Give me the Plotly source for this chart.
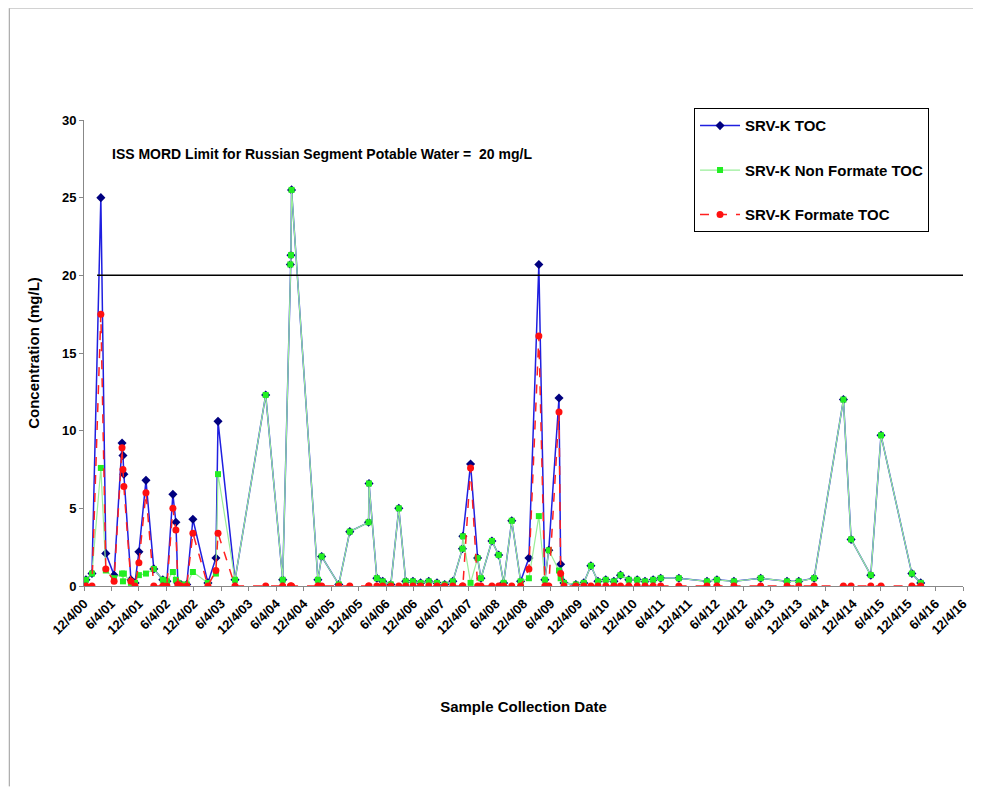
import plotly.graph_objects as go

# sample dates and concentrations (mg/L)
dates = ["2000-12-17", "2001-01-26", "2001-03-26", "2001-04-28", "2001-06-22", "2001-08-14",
         "2001-08-20", "2001-08-26", "2001-10-12", "2001-11-08", "2001-12-04", "2002-01-20",
         "2002-03-13", "2002-05-12", "2002-06-08", "2002-07-18", "2002-08-07", "2002-08-20",
         "2002-09-10", "2002-10-18", "2002-11-28", "2003-03-08", "2003-04-30", "2003-05-14",
         "2003-09-04", "2004-03-26", "2004-07-17", "2004-09-06", "2004-09-10", "2004-09-14",
         "2005-03-08", "2005-04-02", "2005-07-25", "2005-10-06", "2006-02-08", "2006-02-11",
         "2006-04-04", "2006-05-13", "2006-07-06", "2006-08-28", "2006-10-13", "2006-11-30",
         "2007-01-20", "2007-03-15", "2007-05-09", "2007-06-29", "2007-08-22", "2007-10-25",
         "2007-10-28", "2007-12-18", "2008-02-03", "2008-02-25", "2008-05-08", "2008-06-22",
         "2008-07-25", "2008-09-17", "2008-11-15", "2009-01-09", "2009-03-16", "2009-04-25",
         "2009-05-21", "2009-07-28", "2009-08-08", "2009-08-30", "2009-11-17", "2010-01-09",
         "2010-02-25", "2010-04-13", "2010-06-04", "2010-07-28", "2010-09-10", "2010-11-04",
         "2010-12-30", "2011-02-20", "2011-04-15", "2011-06-04", "2011-10-03", "2012-04-07",
         "2012-06-12", "2012-10-03", "2013-03-30", "2013-09-21", "2013-12-08", "2014-03-20",
         "2014-10-01", "2014-11-21", "2015-04-01", "2015-06-08", "2015-12-30", "2016-02-27"]

toc = [0.4, 0.8, 25.0, 2.1, 0.7, 9.2, 8.4, 7.2, 0.4, 0.2, 2.2, 6.8,
       1.1, 0.4, 0.3, 5.9, 4.1, 0.2, 0.1, 0.1, 4.3, 0.2, 1.8, 10.6,
       0.4, 12.3, 0.4, 20.7, 21.3, 25.5, 0.4, 1.9, 0.1, 3.5, 4.1, 6.6,
       0.5, 0.3, 0.1, 5.0, 0.3, 0.3, 0.2, 0.3, 0.2, 0.1, 0.3, 2.4,
       3.2, 7.85, 1.8, 0.5, 2.9, 2.0, 0.2, 4.2, 0.3, 1.8, 20.7, 0.4,
       2.3, 12.1, 1.4, 0.2, 0.1, 0.2, 1.3, 0.3, 0.4, 0.3, 0.7, 0.4,
       0.4, 0.3, 0.4, 0.5, 0.5, 0.3, 0.4, 0.3, 0.5, 0.3, 0.3, 0.5,
       12.0, 3.0, 0.7, 9.7, 0.8, 0.2]

non_formate = [0.4, 0.8, 7.6, 1.0, 0.5, 0.8, 0.3, 0.8, 0.2, 0.2, 0.7, 0.8,
               1.1, 0.4, 0.3, 0.9, 0.4, 0.2, 0.1, 0.1, 0.9, 0.2, 0.8, 7.2,
               0.4, 12.3, 0.4, 20.7, 21.3, 25.5, 0.4, 1.9, 0.1, 3.5, 4.1, 6.6,
               0.5, 0.3, 0.1, 5.0, 0.3, 0.3, 0.2, 0.3, 0.2, 0.1, 0.3, 2.4,
               3.2, 0.2, 1.8, 0.5, 2.9, 2.0, 0.2, 4.2, 0.3, 0.5, 4.5, 0.4,
               2.3, 1.0, 0.5, 0.2, 0.1, 0.2, 1.3, 0.3, 0.4, 0.3, 0.7, 0.4,
               0.4, 0.3, 0.4, 0.5, 0.5, 0.3, 0.4, 0.3, 0.5, 0.3, 0.3, 0.5,
               12.0, 3.0, 0.7, 9.7, 0.8, 0.2]

formate = [0.0, 0.0, 17.5, 1.1, 0.3, 8.9, 7.5, 6.4, 0.3, 0.0, 1.5, 6.0,
           0.0, 0.0, 0.0, 5.0, 3.6, 0.1, 0.0, 0.0, 3.4, 0.0, 1.0, 3.4,
           0.0, 0.0, 0.0, 0.0, 0.0, 0.0, 0.0, 0.0, 0.0, 0.0, 0.0, 0.0,
           0.0, 0.0, 0.0, 0.0, 0.0, 0.0, 0.0, 0.0, 0.0, 0.0, 0.0, 0.0,
           0.0, 7.6, 0.0, 0.0, 0.0, 0.0, 0.0, 0.0, 0.0, 1.1, 16.1, 0.0,
           0.0, 11.2, 0.8, 0.0, 0.0, 0.0, 0.0, 0.0, 0.0, 0.0, 0.0, 0.0,
           0.0, 0.0, 0.0, 0.0, 0.0, 0.0, 0.0, 0.0, 0.0, 0.0, 0.0, 0.0,
           0.0, 0.0, 0.0, 0.0, 0.0, 0.0]

limit_x = ["2001-03-01", "2016-12-04"]
limit_y = [20, 20]

tick_dates = []
tick_labels = []
for yr in range(2000, 2017):
    for m in (6, 12):
        if (yr == 2000 and m == 6):
            continue
        tick_dates.append(f"{yr}-{m:02d}-04")
        tick_labels.append(f"<b>{m}/4/{yr % 100:02d}</b>")

fig = go.Figure()
fig.add_trace(go.Scatter(x=dates, y=toc, name="<b>SRV-K TOC</b>", mode="lines+markers",
                         legendgroup="a",
                         line=dict(color="#1f1fe0", width=1.5),
                         marker=dict(symbol="diamond", size=7, color="#00007f")))
fig.add_trace(go.Scatter(x=dates, y=non_formate, name="<b>SRV-K Non Formate TOC</b>", mode="lines+markers",
                         legendgroup="b",
                         line=dict(color="#99ee99", width=1.2),
                         marker=dict(symbol="square", size=6, color="#22ee22")))
fig.add_trace(go.Scatter(x=dates, y=formate, name="<b>SRV-K Formate TOC</b>", mode="lines+markers",
                         legendgroup="c",
                         line=dict(color="#ff2020", width=1.5, dash="dash"),
                         marker=dict(symbol="circle", size=7, color="#ff1010")))
fig.add_trace(go.Scatter(x=limit_x, y=limit_y, mode="lines", showlegend=False,
                         line=dict(color="black", width=1.5), hoverinfo="skip"))

fig.add_annotation(x=0.03, y=27.8, xref="paper", yref="y", xanchor="left", showarrow=False,
                   text="<b>ISS MORD Limit for Russian Segment Potable Water =  20 mg/L</b>",
                   font=dict(size=14, color="black"))

# frame lines of the original page
fig.add_shape(type="line", xref="paper", yref="paper", x0=-0.085, x1=-0.085, y0=-0.43, y1=1.24,
              line=dict(color="#999", width=1))
fig.add_shape(type="line", xref="paper", yref="paper", x0=-0.085, x1=1.03, y0=1.24, y1=1.24,
              line=dict(color="#bbb", width=1))

fig.update_layout(
    width=981, height=787,
    margin=dict(l=76, r=26, t=112, b=209),
    paper_bgcolor="white", plot_bgcolor="white",
    font=dict(family="Arial, Liberation Sans, sans-serif", color="black"),
    showlegend=True,
    legend=dict(x=0.694, y=1.025, xanchor="left", yanchor="top",
                bordercolor="black", borderwidth=1, bgcolor="white",
                font=dict(size=15, color="black"), tracegroupgap=22,
                itemwidth=40),
    xaxis=dict(range=["2000-12-04", "2016-12-04"], tickvals=tick_dates, ticktext=tick_labels,
               tickangle=-45, tickfont=dict(size=13),
               showgrid=False, showline=True, linecolor="#888", ticks="outside",
               ticklen=4, tickcolor="#888", zeroline=False,
               title=dict(text="<b>Sample Collection Date</b>", font=dict(size=15), standoff=65)),
    yaxis=dict(range=[0, 30], dtick=5, showgrid=False, showline=True, linecolor="#888",
               ticks="outside", ticklen=4, tickcolor="#888", zeroline=False,
               tickfont=dict(size=13), tickprefix="<b>", ticksuffix="</b>",
               title=dict(text="<b>Concentration (mg/L)</b>", font=dict(size=15), standoff=18)),
)
fig.write_html("out.html")
